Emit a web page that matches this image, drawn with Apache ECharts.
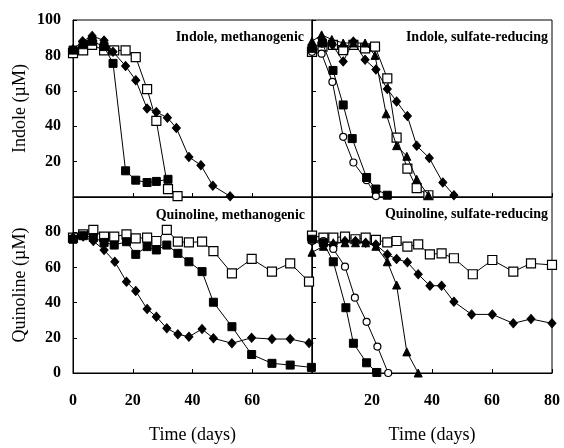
<!DOCTYPE html>
<html><head><meta charset="utf-8">
<script src="https://cdn.jsdelivr.net/npm/echarts@6/dist/echarts.min.js"></script>
<style>html,body{margin:0;padding:0;background:#fff}#c{width:564px;height:448px}</style>
</head><body><div id="c"></div>
<script>
// Tick labels
const xTicks = [0, 20, 40, 60, 80];
const yTicks = [0, 20, 40, 60, 80, 100];
const panelTitles = ['Indole, methanogenic', 'Indole, sulfate-reducing', 'Quinoline, methanogenic', 'Quinoline, sulfate-reducing'];

// Indole, methanogenic [day, µM]
const tlDiamond = [[0,83.5],[3.2,88],[6.4,91],[10.4,88.4],[13.4,82],[17.6,74],[21,66],[24.8,50],[27.9,48],[31.6,44.8],[34.6,39],[38.8,22.6],[42.8,18],[46.8,6.4],[52.6,0.4]];
const tlFilledSq = [[0,83],[3.4,86],[6.4,88],[10.4,85],[13.4,75.5],[17.6,14.8],[21,9.5],[24.8,8.2],[27.9,8.8],[31.8,10]];
const tlOpenSq = [[0,81.3],[3.4,82.8],[6.4,86],[10.4,82.8],[13.8,82.8],[17.6,82.8],[21,79],[24.8,61],[27.9,43],[31.8,4.5],[35,0.5]];

// Indole, sulfate-reducing
const trFilledSq = [[0,84],[3.5,87],[7,71.5],[10.4,52],[13.4,33],[18.2,11],[21.3,4.5],[25.1,1]];
const trOpenCircle = [[0,82],[3.2,81],[6.8,65],[10.4,34],[13.8,19.5],[18.2,9.5],[21.3,0.5]];
const trTriangle = [[0,88],[3.2,91.6],[6.6,89],[10.4,87],[13.8,87],[17.7,87],[21,80],[24.7,47],[28.2,29],[31.6,23],[34.9,10],[38.8,1]];
const trOpenSq = [[0,82],[3.5,85],[7,86],[10.4,83],[13.8,86],[17.7,84],[21,85],[25.1,67],[28.2,33.5],[31.8,16],[34.9,5],[38.8,1]];
const trDiamond = [[0,84],[3.3,87],[6.8,86],[10.4,76.6],[13.8,87.8],[17.7,77.5],[21.3,72],[25.1,61],[28.2,54],[31.8,45.7],[34.9,29],[39.1,22],[43.6,8.2],[47.3,1]];

// Quinoline, methanogenic
const blOpenSq = [[0,76.9],[3.4,78.8],[6.8,81.3],[10.4,77.5],[13.8,77.5],[17.9,78.8],[21,76.5],[24.8,76.9],[27.9,75],[31.4,81.3],[35.1,74.6],[38.8,74.2],[43.2,74.6],[47,69.3],[53.2,56.6],[59.8,64.8],[66.6,57.6],[72.7,62.3],[79,51.9]];
const blFilledSq = [[0,76],[3.4,78],[6.8,77],[10.4,74.2],[13.8,72.7],[17.9,74.6],[21,67.4],[24.8,71.8],[27.9,69.9],[31.4,72.7],[35.1,68],[38.8,63.2],[43.2,57.6],[47,40.2],[53.2,26.3],[59.8,10.5],[66.6,5.5],[72.7,4.5],[79.8,3.2]];
const blDiamond = [[0,77],[3.4,77.5],[6.8,75],[10.4,69.9],[14,63.2],[17.9,51.9],[21,46.6],[24.8,36.4],[27.9,32],[31.4,25.4],[35.1,22],[38.8,20.6],[43.2,25],[47,19.7],[53.2,16.9],[59.8,20],[66.6,19.3],[72.7,19.3],[79,17]];

// Quinoline, sulfate-reducing
const brOpenSq = [[0,78],[3.8,76.9],[7.1,76.9],[11,77.5],[14.5,76],[17.9,76.9],[21.3,75.6],[25.1,74.2],[28.2,75],[31.8,71.8],[35.4,73.1],[39.3,67.4],[43.2,68],[47.3,65.2],[53.6,56.1],[60.1,64.2],[67.1,57.6],[73,62.3],[80,61.4]];
const brDiamond = [[0,75],[3.8,73],[7.1,73],[11,75],[14.5,75],[17.9,74],[21.3,73],[25.1,67.4],[28.2,64.8],[31.8,62.9],[35.4,56.1],[39.3,49.6],[43.2,49.6],[47.3,40.5],[53.2,33.3],[60.1,33.3],[67.1,28.2],[73,30.7],[80,28.2]];
const brTriangle = [[0,68.6],[3.8,72],[7.1,74],[11,74],[14.5,74],[17.9,74],[21.3,72],[25.1,63.2],[28.2,50],[31.6,12],[35.4,0]];
const brFilledSq = [[0,76],[3.8,74],[7.1,63.2],[11.3,37.1],[13.8,16.9],[18.2,5.8],[21.6,0.3]];
const brOpenCircle = [[0,75],[3.8,75],[7.1,70.5],[11,60.4],[14.3,42.8],[18.2,29.1],[21.8,15],[25.4,0]];

const FONT = "'Liberation Serif', 'Times New Roman', serif";
const marks = {
  filledSq: {symbol:'rect', symbolSize:8, itemStyle:{color:'#000', borderColor:'#000', borderWidth:1}},
  openSq: {symbol:'rect', symbolSize:9, itemStyle:{color:'#fff', borderColor:'#000', borderWidth:1.2}},
  diamond: {symbol:'diamond', symbolSize:[8,9], itemStyle:{color:'#000', borderColor:'#000', borderWidth:1}},
  openCircle: {symbol:'circle', symbolSize:7, itemStyle:{color:'#fff', borderColor:'#000', borderWidth:1.2}},
  triangle: {symbol:'triangle', symbolSize:[8,8], itemStyle:{color:'#000', borderColor:'#000', borderWidth:1}}
};
function mk(data, kind, idx, z) {
  return Object.assign({
    type:'line', data:data, xAxisIndex:idx, yAxisIndex:idx, z:z||2,
    showAllSymbol:true, animation:false,
    lineStyle:{color:'#000', width:1}, emphasis:{disabled:true}
  }, marks[kind]);
}
const grids = [
  {left:73, top:20, width:239, height:177},
  {left:312, top:20, width:240, height:177},
  {left:73, top:197, width:239, height:176},
  {left:312, top:197, width:240, height:176}
].map(g => Object.assign(g, {show:true, borderColor:'#000', borderWidth:1, backgroundColor:'transparent'}));

const labelStyle = {color:'#000', fontFamily:FONT, fontSize:16, fontWeight:'bold'};
const nameStyle = {color:'#000', fontFamily:FONT, fontSize:18};
function xAx(i, showLabels, hide, name) {
  return {
    gridIndex:i, type:'value', min:xTicks[0], max:xTicks[xTicks.length-1], interval:20,
    axisLine:{show:true, lineStyle:{color:'#000', width:1}},
    axisTick:{show:true, inside:true, length:4, lineStyle:{color:'#000'}},
    splitLine:{show:false},
    axisLabel: showLabels ? Object.assign({show:true, margin:20, formatter:v => v===hide ? '' : String(v)}, labelStyle) : {show:false},
    name: name || '', nameLocation:'middle', nameGap:53, nameTextStyle:nameStyle
  };
}
function yAx(i, showLabels, hide, name) {
  return {
    gridIndex:i, type:'value', min:yTicks[0], max:yTicks[yTicks.length-1], interval:20,
    axisLine:{show:true, lineStyle:{color:'#000', width:1}},
    axisTick:{show:true, inside:true, length:4, lineStyle:{color:'#000'}},
    splitLine:{show:false},
    axisLabel: showLabels ? Object.assign({show:true, margin:12, formatter:v => v===hide ? '' : String(v)}, labelStyle) : {show:false},
    name: name || '', nameLocation:'middle', nameGap:44, nameRotate:90, nameTextStyle:nameStyle
  };
}
const titlePos = [[304,37],[548,37],[305,215],[548,214]];
const option = {
  backgroundColor:'#fff',
  animation:false,
  grid: grids,
  xAxis:[xAx(0,false), xAx(1,false), xAx(2,true,80,'Time (days)'), xAx(3,true,0,'Time (days)')],
  yAxis:[yAx(0,true,0,'Indole (µM)'), yAx(1,false), yAx(2,true,100,'Quinoline (µM)'), yAx(3,false)],
  graphic: panelTitles.map((t,i) => ({
    type:'text', x:titlePos[i][0], y:titlePos[i][1], z:10,
    style:{text:t, fill:'#000', font:"bold 14px " + FONT, textAlign:'right', textVerticalAlign:'middle'}
  })),
  series:[
    mk(tlOpenSq,'openSq',0), mk(tlDiamond,'diamond',0,3), mk(tlFilledSq,'filledSq',0,4),
    mk(trOpenSq,'openSq',1), mk(trDiamond,'diamond',1,3), mk(trTriangle,'triangle',1,3), mk(trOpenCircle,'openCircle',1,4), mk(trFilledSq,'filledSq',1,4),
    mk(blOpenSq,'openSq',2), mk(blDiamond,'diamond',2,3), mk(blFilledSq,'filledSq',2,4),
    mk(brOpenSq,'openSq',3), mk(brDiamond,'diamond',3,3), mk(brTriangle,'triangle',3,3), mk(brOpenCircle,'openCircle',3,4), mk(brFilledSq,'filledSq',3,4)
  ]
};
const chart = echarts.init(document.getElementById('c'), null, {renderer:'canvas'});
chart.setOption(option);
</script></body></html>
